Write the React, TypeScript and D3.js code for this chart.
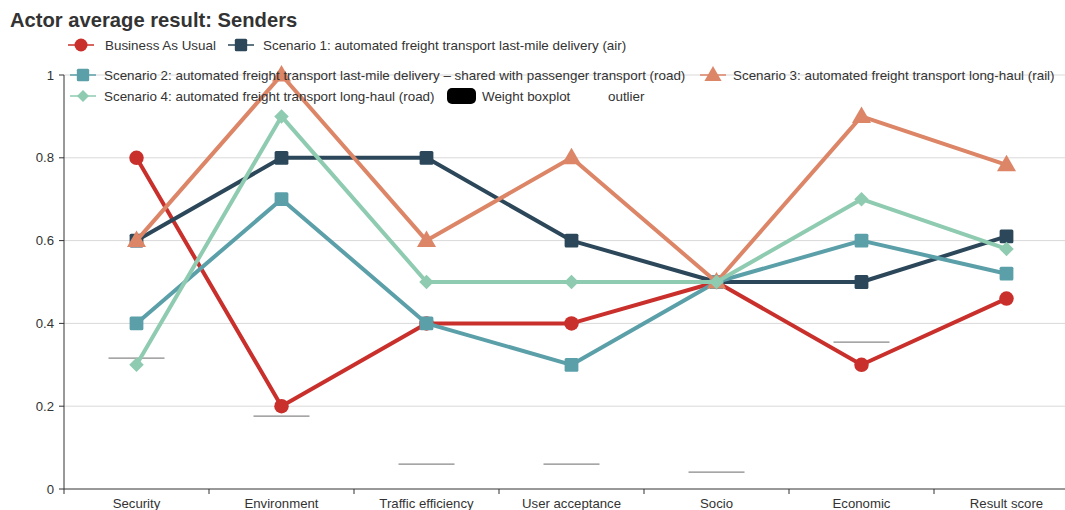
import React from "react";
import * as d3 from "d3";

const categories = ["Security", "Environment", "Traffic efficiency", "User acceptance", "Socio", "Economic", "Result score"];
const bau = [0.8, 0.2, 0.4, 0.4, 0.5, 0.3, 0.46];
const scenario1 = [0.6, 0.8, 0.8, 0.6, 0.5, 0.5, 0.61];
const scenario2 = [0.4, 0.7, 0.4, 0.3, 0.5, 0.6, 0.52];
const scenario3 = [0.6, 1.0, 0.6, 0.8, 0.5, 0.9, 0.783];
const scenario4 = [0.3, 0.9, 0.5, 0.5, 0.5, 0.7, 0.58];
const outliers = [0.316, 0.176, 0.06, 0.06, 0.041, 0.355, null];
const yTicks = [0, 0.2, 0.4, 0.6, 0.8, 1];

const seriesNames = [
  "Business As Usual",
  "Scenario 1: automated freight transport last-mile delivery (air)",
  "Scenario 2: automated freight transport last-mile delivery – shared with passenger transport (road)",
  "Scenario 3: automated freight transport long-haul (rail)",
  "Scenario 4: automated freight transport long-haul (road)",
];
const seriesColors = ["#c9302c", "#2b4759", "#5b9fa9", "#dc8567", "#8ecbb0"];
const seriesShapes = ["circle", "square", "square", "triangle", "diamond"];
const seriesValues = [bau, scenario1, scenario2, scenario3, scenario4];

const W = 1065, H = 510;
const FONT = "'Liberation Sans', Arial, Helvetica, sans-serif";
const LEG_FS = 13.4;
const AX_FS = 13.2;

function Marker({ shape, x, y, color, size }: { shape: string; x: number; y: number; color: string; size: number }) {
  if (shape === "circle") return <circle cx={x} cy={y} r={size * 0.5} fill={color} />;
  if (shape === "square") {
    const s = size * 0.95;
    return <rect x={x - s / 2} y={y - s / 2} width={s} height={s} rx={1.5} fill={color} />;
  }
  if (shape === "diamond") {
    const h = size * 0.5;
    return <path d={`M${x},${y - h}L${x + h},${y}L${x},${y + h}L${x - h},${y}Z`} fill={color} />;
  }
  const p = d3.symbol().type(d3.symbolTriangle).size(size * size * 0.75)() as string;
  return <path d={p} transform={`translate(${x},${y + 1})`} fill={color} />;
}

export default function App() {
  const x = d3.scaleBand().domain(categories).range([64, 1079]);
  const y = d3.scaleLinear().domain([0, 1]).range([489, 75]);
  const cx = (c: string) => (x(c) as number) + x.bandwidth() / 2;
  const line = d3.line<number>().x((_, i) => cx(categories[i])).y((v) => y(v));
  const boundaries = categories.map((c) => x(c) as number).concat([1079]);

  const legendRows = [
    { idx: 0, x: 68, y: 45, tx: 105 },
    { idx: 1, x: 228, y: 45, tx: 263 },
    { idx: 2, x: 70, y: 75, tx: 104 },
    { idx: 3, x: 700, y: 75, tx: 733 },
    { idx: 4, x: 70, y: 96, tx: 104 },
  ];

  return (
    <svg width={W} height={H} style={{ position: "absolute", left: 0, top: 0, fontFamily: FONT }}>
      <rect width={W} height={H} fill="#fff" />
      <text x={10} y={27} fontSize={20.2} fontWeight="bold" fill="#333">Actor average result: Senders</text>

      {/* gridlines */}
      {yTicks.filter((t) => t > 0).map((t) => (
        <line key={t} x1={64} x2={W} y1={y(t)} y2={y(t)} stroke="#d9d9d9" strokeWidth={1} />
      ))}

      {/* y axis */}
      <line x1={64} x2={64} y1={y(1)} y2={y(0)} stroke="#333" strokeWidth={1} />
      {yTicks.map((t) => (
        <g key={t}>
          <line x1={59} x2={64} y1={y(t)} y2={y(t)} stroke="#333" />
          <text x={54} y={y(t) + 4.5} fontSize={AX_FS} fill="#333" textAnchor="end">{d3.format("~g")(t)}</text>
        </g>
      ))}

      {/* x axis */}
      <line x1={64} x2={W} y1={y(0)} y2={y(0)} stroke="#333" strokeWidth={1} />
      {boundaries.map((b, i) => (
        <line key={i} x1={b} x2={b} y1={y(0)} y2={y(0) + 5} stroke="#333" />
      ))}
      {categories.map((c) => (
        <text key={c} x={cx(c)} y={508} fontSize={AX_FS} fill="#333" textAnchor="middle">{c}</text>
      ))}

      {/* outlier lines */}
      {outliers.map((v, i) =>
        v == null ? null : (
          <line key={i} x1={cx(categories[i]) - 28} x2={cx(categories[i]) + 28} y1={y(v)} y2={y(v)} stroke="#888" strokeWidth={1.2} />
        )
      )}

      {/* series */}
      {seriesValues.map((vals, si) => (
        <g key={si}>
          <path d={line(vals) as string} fill="none" stroke={seriesColors[si]} strokeWidth={4} strokeLinejoin="round" />
          {vals.map((v, i) => (
            <Marker key={i} shape={seriesShapes[si]} x={cx(categories[i])} y={y(v)} color={seriesColors[si]} size={14.5} />
          ))}
        </g>
      ))}

      {/* legend */}
      {legendRows.map((r) => (
        <g key={r.idx}>
          <line x1={r.x} x2={r.x + 26} y1={r.y} y2={r.y} stroke={seriesColors[r.idx]} strokeWidth={1.5} />
          <Marker shape={seriesShapes[r.idx]} x={r.x + 13} y={r.y} color={seriesColors[r.idx]} size={r.idx === 4 ? 12 : 13} />
          <text x={r.tx} y={r.y + 4.8} fontSize={LEG_FS} fill="#333">{seriesNames[r.idx]}</text>
        </g>
      ))}
      <rect x={447} y={88} width={29} height={16} rx={5} fill="#000" />
      <text x={482} y={100.8} fontSize={LEG_FS} fill="#333">Weight boxplot</text>
      <text x={608} y={100.8} fontSize={LEG_FS} fill="#333">outlier</text>
    </svg>
  );
}
